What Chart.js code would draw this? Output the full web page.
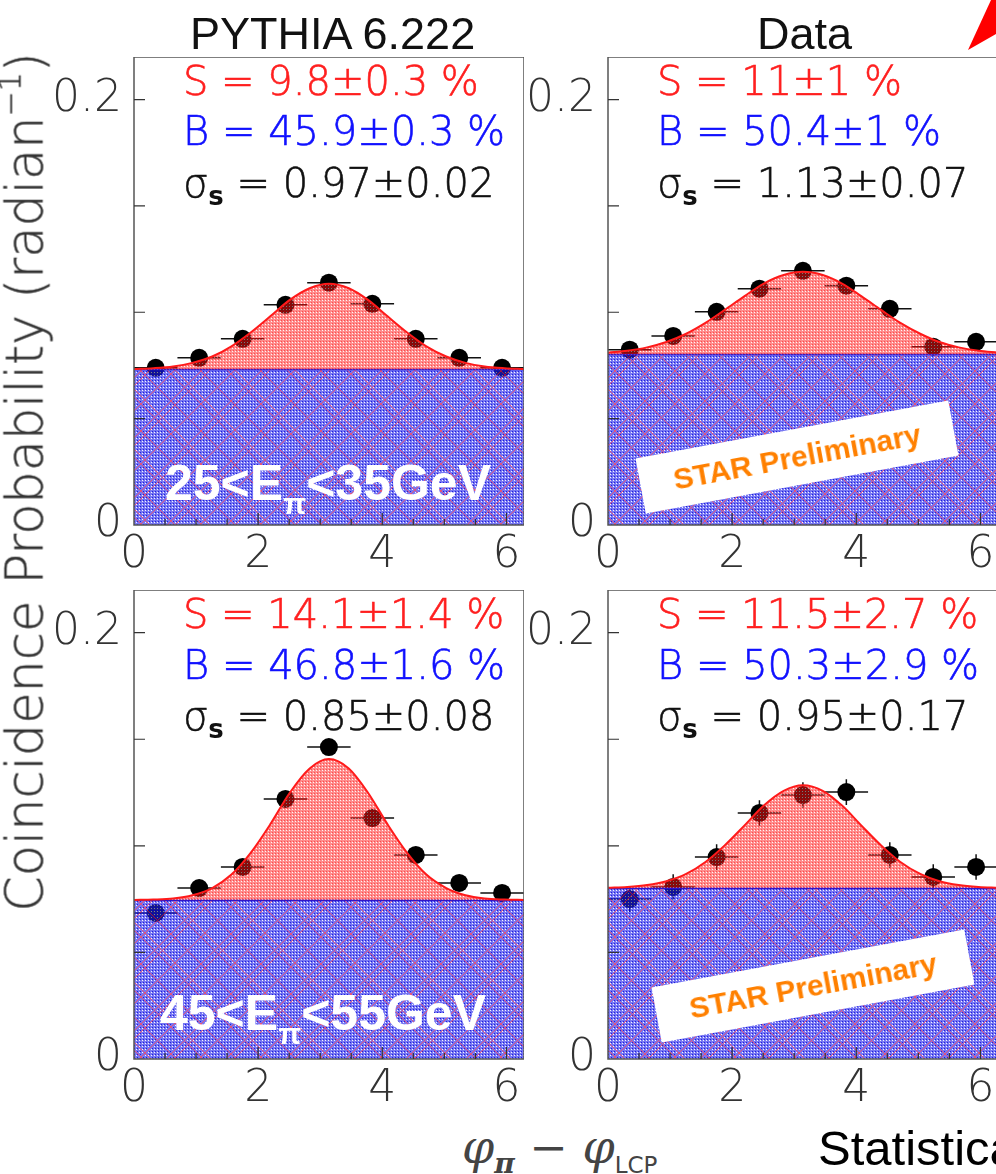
<!DOCTYPE html>
<html>
<head>
<meta charset="utf-8">
<script src="https://cdn.jsdelivr.net/npm/chart.js@4.4.1/dist/chart.umd.min.js"></script>
<style>
  html, body { margin: 0; padding: 0; background: #fff; }
  body { width: 996px; height: 1174px; position: relative; overflow: hidden; font-family: "Liberation Sans", Arial, sans-serif; }
  canvas { position: absolute; }
  .txt { position: absolute; white-space: pre; line-height: 1; z-index: 5; }
  .fit { font-family: "DejaVu Sans", sans-serif; font-size: 40px; font-weight: 200; -webkit-text-stroke: 0.6px currentColor; }
  .red { color: #ff1f1f; }
  .blue { color: #1010ff; }
  .blk { color: #111; }
  .sub { font-size: 26px; position: relative; top: 8px; font-weight: bold; -webkit-text-stroke: 0; }
  .title { font-family: "Liberation Sans", Arial, sans-serif; font-size: 45px; color: #111; }
  .energy { font-family: "Liberation Sans", Arial, sans-serif; font-weight: bold; font-size: 50px; color: #fff; }
  .energy .pi { font-size: 30px; position: relative; top: 14px; }
  .star { position: absolute; width: 318px; height: 56px; background: #fff; color: #ff8000; z-index: 5;
          font-family: "Liberation Sans", Arial, sans-serif; font-weight: bold; font-size: 30px;
          line-height: 56px; text-align: center; transform: translate(-50%, -50%) rotate(-10.5deg); }
</style>
</head>
<body>

<script>
// axis ranges and ticks
const xMin = 0, xMax = 6.2832, yMin = 0, yMax = 0.22;
const xTickLabels = [0, 2, 4, 6];
const xTickMarks = [0.5, 1, 1.5, 2, 2.5, 3, 3.5, 4, 4.5, 5, 5.5, 6];
const xMajorMarks = [2, 4, 6];
const yTickLabels = [0, 0.2];
const yTickMarks = [0.05, 0.1, 0.15, 0.2];

// bin centres of phi_pi - phi_LCP and half bin width
const phiBins = [0.35, 1.05, 1.75, 2.44, 3.14, 3.84, 4.54, 5.24, 5.93];
const binHalfWidth = 0.35;

// measured coincidence probability (radian^-1)
const pythiaLowY  = [0.0739, 0.0786, 0.0875, 0.1035, 0.1139, 0.1040, 0.0875, 0.0786, 0.0739];
const pythiaLowErr = [0.001, 0.001, 0.001, 0.001, 0.001, 0.001, 0.001, 0.001, 0.001];
const dataLowY    = [0.0824, 0.0889, 0.1002, 0.1111, 0.1195, 0.1125, 0.1016, 0.0838, 0.0861];
const dataLowErr  = [0.003, 0.003, 0.003, 0.003, 0.003, 0.003, 0.003, 0.003, 0.003];
const pythiaHighY = [0.0685, 0.0802, 0.0901, 0.1220, 0.1463, 0.1130, 0.0957, 0.0826, 0.0779];
const pythiaHighErr = [0.003, 0.003, 0.003, 0.003, 0.003, 0.003, 0.003, 0.003, 0.003];
const dataHighY   = [0.0750, 0.0807, 0.0947, 0.1154, 0.1238, 0.1252, 0.0957, 0.0854, 0.0901];
const dataHighErr = [0.006, 0.006, 0.006, 0.006, 0.006, 0.006, 0.006, 0.006, 0.006];

// fit curve (signal + flat background)
const fitX = [0, 0.31, 0.63, 0.94, 1.26, 1.57, 1.88, 2.20, 2.51, 2.83, 3.14,
              3.46, 3.77, 4.08, 4.40, 4.71, 5.03, 5.34, 5.65, 5.97, 6.2832];
const pythiaLowFit  = [0.0733, 0.0737, 0.0745, 0.0762, 0.0792, 0.0840, 0.0905, 0.0982, 0.1058, 0.1113, 0.1134,
                       0.1113, 0.1058, 0.0982, 0.0905, 0.0840, 0.0792, 0.0762, 0.0745, 0.0737, 0.0733];
const dataLowFit    = [0.0810, 0.0819, 0.0835, 0.0860, 0.0899, 0.0950, 0.1011, 0.1076, 0.1135, 0.1175, 0.1190,
                       0.1175, 0.1135, 0.1076, 0.1011, 0.0950, 0.0899, 0.0860, 0.0835, 0.0819, 0.0810];
const pythiaHighFit = [0.0746, 0.0748, 0.0753, 0.0768, 0.0802, 0.0865, 0.0967, 0.1103, 0.1249, 0.1363, 0.1407,
                       0.1363, 0.1249, 0.1103, 0.0967, 0.0865, 0.0802, 0.0768, 0.0753, 0.0748, 0.0746];
const dataHighFit   = [0.0803, 0.0807, 0.0816, 0.0834, 0.0868, 0.0924, 0.1002, 0.1096, 0.1189, 0.1258, 0.1284,
                       0.1258, 0.1189, 0.1096, 0.1002, 0.0924, 0.0868, 0.0834, 0.0816, 0.0807, 0.0803];
// flat background level B / 2pi
const pythiaLowBase = 0.0731, dataLowBase = 0.0802, pythiaHighBase = 0.0745, dataHighBase = 0.0801;

const panels = [
  { left: 134, top: 57,  h: 468, y: pythiaLowY,  err: pythiaLowErr,  fit: pythiaLowFit,  base: pythiaLowBase },
  { left: 608, top: 57,  h: 468, y: dataLowY,    err: dataLowErr,    fit: dataLowFit,    base: dataLowBase },
  { left: 134, top: 590, h: 469, y: pythiaHighY, err: pythiaHighErr, fit: pythiaHighFit, base: pythiaHighBase },
  { left: 608, top: 590, h: 469, y: dataHighY,   err: dataHighErr,   fit: dataHighFit,   base: dataHighBase },
];

// dithered fill tiles, like the ROOT fill styles
function makeTile(size, base, light, dark, lineOffsets, lineColor) {
  const c = document.createElement('canvas');
  c.width = c.height = size;
  const g = c.getContext('2d');
  g.fillStyle = base;
  g.fillRect(0, 0, size, size);
  for (let y = 0; y < size; y++) {
    for (let x = 0; x < size; x++) {
      let col = null;
      if (x % 3 === 0 && y % 3 === 0) col = light;
      else if (x % 3 === 1 && y % 3 === 2) col = dark;
      const d1 = (x + y) % size, d2 = ((x - y) % size + size) % size;
      if (lineOffsets.includes(d1) || lineOffsets.includes(d2)) col = lineColor;
      if (col) { g.clearRect(x, y, 1, 1); g.fillStyle = col; g.fillRect(x, y, 1, 1); }
    }
  }
  return c;
}
const blueTile = makeTile(60, 'rgba(35,35,235,0.62)', 'rgba(235,235,255,0.55)', 'rgba(0,0,215,0.88)', [0, 8, 33], 'rgba(215,25,80,0.75)');
const redTile  = makeTile(6, 'rgba(255,25,25,0.5)', 'rgba(255,235,235,0.5)', 'rgba(250,0,0,0.7)', [], null);

const frame = {
  id: 'frame',
  afterDatasetsDraw(chart) {
    const { ctx, chartArea: a, scales: { x, y } } = chart;
    ctx.save();
    ctx.strokeStyle = '#555';
    ctx.lineWidth = 1.5;
    ctx.strokeRect(a.left, a.top, a.right - a.left, a.bottom - a.top);
    ctx.strokeStyle = '#333';
    ctx.lineWidth = 1.2;
    ctx.beginPath();
    yTickMarks.forEach(v => {
      const py = y.getPixelForValue(v);
      ctx.moveTo(a.left, py); ctx.lineTo(a.left + 11, py);
    });
    xTickMarks.forEach(v => {
      const px = x.getPixelForValue(v);
      const len = xMajorMarks.includes(v) ? 12 : 6;
      ctx.moveTo(px, a.bottom); ctx.lineTo(px, a.bottom - len);
    });
    ctx.stroke();
    ctx.restore();
  }
};

const tickFont = { family: 'DejaVu Sans', size: 44, weight: 200 };

panels.forEach(p => {
  const cv = document.createElement('canvas');
  cv.width = 490; cv.height = p.h + 60;
  cv.style.left = (p.left - 100) + 'px';
  cv.style.top = p.top + 'px';
  document.body.appendChild(cv);
  const ctx = cv.getContext('2d');
  const bluePat = ctx.createPattern(blueTile, 'repeat');
  const redPat = ctx.createPattern(redTile, 'repeat');

  const pts = phiBins.map((x, i) => ({ x: x, y: p.y[i] }));
  const xErr = phiBins.flatMap((x, i) => [
    { x: x - binHalfWidth, y: p.y[i] }, { x: x + binHalfWidth, y: p.y[i] }, { x: x, y: null }]);
  const yErr = phiBins.flatMap((x, i) => [
    { x: x, y: p.y[i] - p.err[i] }, { x: x, y: p.y[i] + p.err[i] }, { x: x, y: null }]);

  new Chart(cv, {
    type: 'scatter',
    data: {
      datasets: [
        { data: pts, pointRadius: 9, pointBackgroundColor: '#000', pointBorderWidth: 0, order: 3 },
        { data: xErr, showLine: true, borderColor: '#111', borderWidth: 1.5, pointRadius: 0, order: 4 },
        { data: yErr, showLine: true, borderColor: '#111', borderWidth: 1.5, pointRadius: 0, order: 4 },
        { data: [{ x: xMin, y: p.base }, { x: xMax, y: p.base }], showLine: true, pointRadius: 0,
          borderColor: '#1414e0', borderWidth: 1.5, fill: 'origin', backgroundColor: bluePat, order: 1 },
        { data: fitX.map((x, i) => ({ x: x, y: p.fit[i] })), showLine: true, pointRadius: 0,
          cubicInterpolationMode: 'monotone', borderColor: '#ff1a1a', borderWidth: 2,
          fill: '-1', backgroundColor: redPat, order: 0 },
      ]
    },
    options: {
      responsive: false,
      animation: false,
      layout: { padding: 0, autoPadding: false },
      plugins: {
        legend: { display: false },
        tooltip: { enabled: false },
        filler: { drawTime: 'beforeDatasetDraw' }
      },
      scales: {
        x: {
          type: 'linear', min: xMin, max: xMax,
          afterBuildTicks: s => { s.ticks = xTickLabels.map(v => ({ value: v })); },
          afterFit: s => { s.height = 60; s.paddingLeft = 0; s.paddingRight = 0; },
          grid: { display: false, drawTicks: false },
          border: { display: false },
          ticks: { font: tickFont, color: '#333', padding: 4, maxRotation: 0, autoSkip: false }
        },
        y: {
          type: 'linear', min: yMin, max: yMax,
          afterBuildTicks: s => { s.ticks = yTickLabels.map(v => ({ value: v })); },
          afterFit: s => { s.width = 100; s.paddingTop = 0; s.paddingBottom = 0; },
          grid: { display: false, drawTicks: false },
          border: { display: false },
          ticks: { font: tickFont, color: '#333', padding: 12, callback: v => String(v) }
        }
      }
    },
    plugins: [frame]
  });
});
</script>

<!-- titles -->
<div class="txt title" style="left:190px; top:11px;">PYTHIA 6.222</div>
<div class="txt title" style="left:757px; top:11px;">Data</div>

<!-- fit results -->
<div class="txt fit red"  style="left:183px; top:61px;">S = 9.8±0.3 %</div>
<div class="txt fit blue" style="left:183px; top:111px;">B = 45.9±0.3 %</div>
<div class="txt fit blk"  style="left:183px; top:163px;">σ<span class="sub">s</span> = 0.97±0.02</div>

<div class="txt fit red"  style="left:657px; top:61px;">S = 11±1 %</div>
<div class="txt fit blue" style="left:657px; top:111px;">B = 50.4±1 %</div>
<div class="txt fit blk"  style="left:657px; top:163px;">σ<span class="sub">s</span> = 1.13±0.07</div>

<div class="txt fit red"  style="left:183px; top:594px;">S = 14.1±1.4 %</div>
<div class="txt fit blue" style="left:183px; top:645px;">B = 46.8±1.6 %</div>
<div class="txt fit blk"  style="left:183px; top:696px;">σ<span class="sub">s</span> = 0.85±0.08</div>

<div class="txt fit red"  style="left:657px; top:594px;">S = 11.5±2.7 %</div>
<div class="txt fit blue" style="left:657px; top:645px;">B = 50.3±2.9 %</div>
<div class="txt fit blk"  style="left:657px; top:696px;">σ<span class="sub">s</span> = 0.95±0.17</div>

<!-- energy bins -->
<div class="txt energy" style="left:165px; top:458px;">25&lt;E<span class="pi">π</span>&lt;35GeV</div>
<div class="txt energy" style="left:160px; top:988px;">45&lt;E<span class="pi">π</span>&lt;55GeV</div>

<!-- preliminary stamps -->
<div class="star" style="left:797px; top:457px;">STAR Preliminary</div>
<div class="star" style="left:813px; top:986px;">STAR Preliminary</div>

<!-- axis titles -->
<div class="txt" style="left:25px; top:482px; transform:translate(-50%,-50%) rotate(-90deg); font-family:'DejaVu Sans',sans-serif; font-weight:200; font-size:51px; color:#333; -webkit-text-stroke:0.4px #333;">Coincidence Probability (radian<span style="font-size:30px; position:relative; top:-22px;">−1</span>)</div>
<div class="txt" style="left:462px; top:1124px; font-family:'DejaVu Serif',serif; font-style:italic; font-size:46px; color:#444;">φ<span style="font-size:28px; position:relative; top:10px; font-weight:bold;">π</span> − φ<span style="font-size:23px; position:relative; top:10px; font-style:normal; font-family:'DejaVu Sans',sans-serif;">LCP</span></div>
<div class="txt" style="left:818px; top:1124px; font-family:'Liberation Sans',Arial,sans-serif; font-size:49px; color:#000;">Statistica</div>

<!-- arrow head at the corner -->
<svg style="position:absolute; left:0; top:0; z-index:6;" width="996" height="60">
  <polygon points="968,50 991,0 996,0 996,34" fill="#ff0000"/>
</svg>

</body>
</html>
